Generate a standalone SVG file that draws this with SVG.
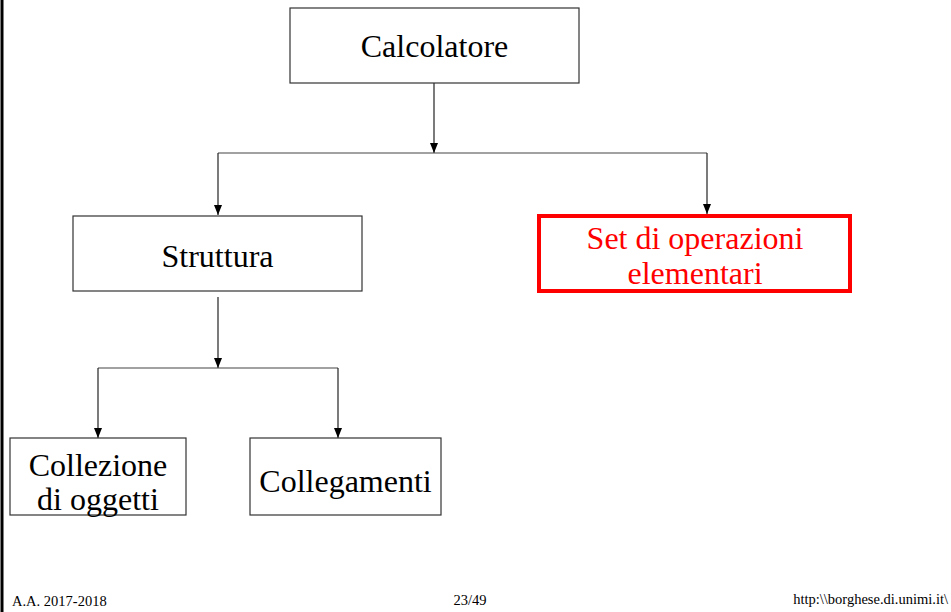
<svg xmlns="http://www.w3.org/2000/svg" width="951" height="612" viewBox="0 0 951 612">
<defs>
<marker id="ah" markerWidth="10" markerHeight="8" refX="10" refY="4" orient="auto" markerUnits="userSpaceOnUse" viewBox="0 0 10 8">
<path d="M0,0 L10,4 L0,8 Z" fill="#000"/>
</marker>
<style>
.box{fill:#fff;stroke:#333;stroke-width:1.2}
.red{fill:#fff;stroke:#ff0000;stroke-width:4}
.t{font-family:"Liberation Serif","Times New Roman",serif;font-size:32px;text-anchor:middle;fill:#000}
.tr{fill:#ff0000}
.f{font-family:"Liberation Serif","Times New Roman",serif;font-size:14.5px;fill:#000}
.c{stroke:#444;stroke-width:1.2;fill:none}
.a{stroke:#222;stroke-width:1.2;fill:none;marker-end:url(#ah)}
</style>
</defs>
<rect width="951" height="612" fill="#fff"/>
<line x1="2" y1="0" x2="2" y2="612" stroke="#000" stroke-width="3"/>
<g id="connectors">
<line class="a" x1="434" y1="83" x2="434" y2="153"/>
<line class="c" x1="218" y1="153" x2="707" y2="153"/>
<line class="a" x1="218" y1="153" x2="218" y2="215"/>
<line class="a" x1="707" y1="153" x2="707" y2="214"/>
<line class="a" x1="218" y1="297" x2="218" y2="368"/>
<line class="c" x1="98" y1="368" x2="338" y2="368"/>
<line class="a" x1="98" y1="368" x2="98" y2="438"/>
<line class="a" x1="338" y1="368" x2="338" y2="438"/>
</g>
<g id="calcolatore">
<rect class="box" x="290" y="8" width="289" height="75"/>
<text class="t" x="434.5" y="57">Calcolatore</text>
</g>
<g id="struttura">
<rect class="box" x="73" y="216" width="289" height="75"/>
<text class="t" x="217.5" y="267">Struttura</text>
</g>
<g id="set-operazioni">
<rect class="red" x="539" y="216" width="311" height="75"/>
<text class="t tr" x="695" y="249">Set di operazioni</text>
<text class="t tr" x="695" y="284">elementari</text>
</g>
<g id="collezione">
<rect class="box" x="10" y="438" width="176" height="77"/>
<text class="t" x="98" y="476">Collezione</text>
<text class="t" x="98" y="510">di oggetti</text>
</g>
<g id="collegamenti">
<rect class="box" x="250" y="438" width="191" height="77"/>
<text class="t" x="345.5" y="492">Collegamenti</text>
</g>
<g id="footer">
<text class="f" x="12" y="606">A.A. 2017-2018</text>
<text class="f" x="470" y="605" text-anchor="middle" font-size="12">23/49</text>
<text class="f" x="948" y="604" text-anchor="end">http:\\borghese.di.unimi.it\</text>
</g>
</svg>
